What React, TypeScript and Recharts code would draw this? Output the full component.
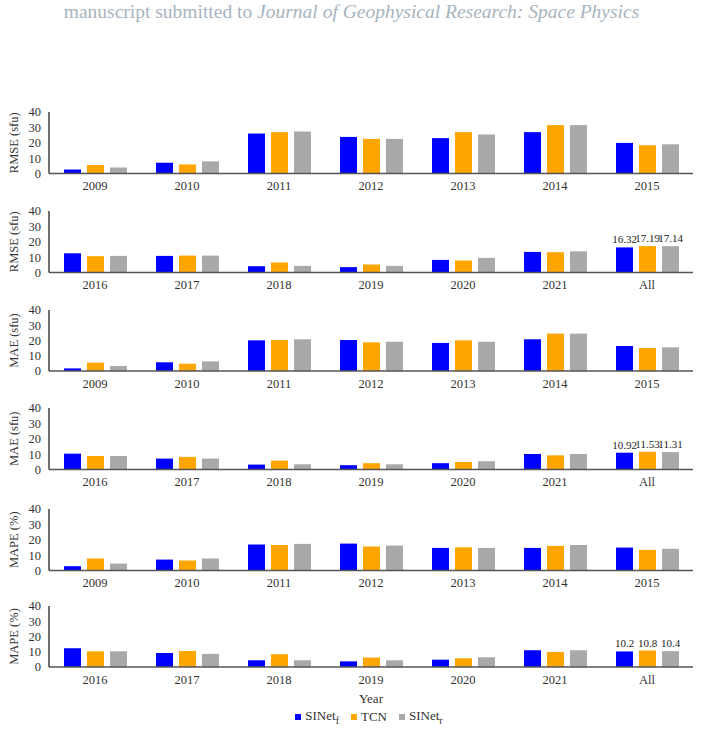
import React from 'react';
import { BarChart, Bar, XAxis, YAxis, LabelList, Legend } from 'recharts';

const yearsA = ['2009', '2010', '2011', '2012', '2013', '2014', '2015'];
const yearsB = ['2016', '2017', '2018', '2019', '2020', '2021', 'All'];

const rmseA_f = [2.6, 7.0, 26.0, 23.8, 23.0, 26.9, 19.9];
const rmseA_t = [5.5, 5.9, 26.9, 22.5, 26.9, 31.5, 18.4];
const rmseA_r = [3.9, 7.9, 27.3, 22.5, 25.4, 31.5, 19.0];

const rmseB_f = [12.5, 10.8, 4.1, 3.5, 8.2, 13.4, 16.32];
const rmseB_t = [10.6, 11.0, 6.5, 5.2, 7.8, 13.2, 17.19];
const rmseB_r = [10.8, 11.0, 4.3, 4.3, 9.5, 13.8, 17.14];

const maeA_f = [1.7, 5.7, 20.1, 20.3, 18.4, 20.8, 16.4];
const maeA_t = [5.5, 4.8, 20.3, 18.8, 20.1, 24.5, 15.1];
const maeA_r = [3.3, 6.3, 20.8, 19.2, 19.2, 24.5, 15.5];

const maeB_f = [10.3, 7.1, 3.2, 2.8, 4.1, 10.1, 10.92];
const maeB_t = [8.8, 8.2, 5.8, 4.1, 4.9, 9.2, 11.53];
const maeB_r = [8.8, 7.1, 3.4, 3.4, 5.4, 10.1, 11.31];

const mapeA_f = [2.8, 7.1, 16.9, 17.5, 14.7, 14.7, 14.9];
const mapeA_t = [7.8, 6.5, 16.6, 15.6, 15.1, 16.0, 13.4];
const mapeA_r = [4.5, 7.8, 17.3, 16.2, 14.7, 16.6, 14.1];

const mapeB_f = [12.3, 9.2, 4.4, 3.7, 4.8, 11.0, 10.2];
const mapeB_t = [10.3, 10.5, 8.4, 6.2, 5.7, 9.9, 10.8];
const mapeB_r = [10.3, 8.6, 4.4, 4.4, 6.4, 11.0, 10.4];

const yTicks = [0, 10, 20, 30, 40];

const BLUE = '#0000ff';
const ORANGE = '#ffa500';
const GREY = '#a9a9a9';
const FONT = '"Liberation Serif", "DejaVu Serif", "Noto Serif", serif';

type Row = { name: string; f: number; t: number; r: number; lf?: string; lt?: string; lr?: string };

function build(cats: string[], f: number[], t: number[], r: number[], labelLast: boolean): Row[] {
  return cats.map((c, i) => {
    const row: Row = { name: c, f: f[i], t: t[i], r: r[i] };
    if (labelLast && c === 'All') {
      row.lf = String(f[i]);
      row.lt = String(t[i]);
      row.lr = String(r[i]);
    }
    return row;
  });
}

const panels = [
  { top: 112, zero: 173.5, label: 'RMSE (sfu)', data: build(yearsA, rmseA_f, rmseA_t, rmseA_r, false) },
  { top: 210.5, zero: 272, label: 'RMSE (sfu)', data: build(yearsB, rmseB_f, rmseB_t, rmseB_r, true) },
  { top: 310, zero: 371, label: 'MAE (sfu)', data: build(yearsA, maeA_f, maeA_t, maeA_r, false) },
  { top: 407.5, zero: 469, label: 'MAE (sfu)', data: build(yearsB, maeB_f, maeB_t, maeB_r, true) },
  { top: 508.5, zero: 570, label: 'MAPE (%)', data: build(yearsA, mapeA_f, mapeA_t, mapeA_r, false) },
  { top: 606, zero: 667, label: 'MAPE (%)', data: build(yearsB, mapeB_f, mapeB_t, mapeB_r, true) },
];

const YLabel = (props: any) => {
  const vb = props.viewBox || {};
  const cy = vb.y + vb.height / 2;
  const cx = 14;
  return (
    <text
      x={cx}
      y={cy}
      transform={`rotate(-90 ${cx} ${cy})`}
      textAnchor="middle"
      dominantBaseline="central"
      style={{ fontFamily: FONT }}
      fontSize={12.5}
      fill="#333"
    >
      {props.text}
    </text>
  );
};

const legendItems = [
  { color: BLUE, main: 'SINet', sub: 'f' },
  { color: ORANGE, main: 'TCN', sub: '' },
  { color: GREY, main: 'SINet', sub: 'r' },
];

const LegendContent = () => (
  <div
    style={{
      display: 'flex',
      justifyContent: 'center',
      alignItems: 'center',
      paddingLeft: 55,
      paddingRight: 10,
      paddingTop: 5,
      fontFamily: FONT,
      fontSize: 13,
      color: '#333',
      gap: 12,
    }}
  >
    {legendItems.map((it, i) => (
      <span key={i} style={{ display: 'inline-flex', alignItems: 'center' }}>
        <span style={{ display: 'inline-block', width: 6, height: 6, background: it.color, marginRight: 4 }} />
        <span>
          {it.main}
          {it.sub ? <sub style={{ fontSize: 10 }}>{it.sub}</sub> : null}
        </span>
      </span>
    ))}
  </div>
);

const MARGIN_TOP = 12;
const tickStyle = { fontFamily: FONT, fontSize: 12.5, fill: '#333' };
const labelStyle = { fontFamily: FONT, fontSize: 11, fill: '#222' };

export default function App() {
  return (
    <div style={{ position: 'absolute', left: 0, top: 0, width: 703, height: 731, background: '#fff', overflow: 'hidden', fontFamily: FONT }}>
      <div
        style={{
          position: 'absolute',
          left: 0,
          top: 1,
          width: 703,
          textAlign: 'center',
          fontFamily: FONT,
          fontSize: 19.5,
          color: '#a7b4c0',
          whiteSpace: 'nowrap',
        }}
      >
        manuscript submitted to <i>Journal of Geophysical Research: Space Physics</i>
      </div>
      {panels.map((p, idx) => {
        const last = idx === panels.length - 1;
        const plotH = p.zero - p.top;
        const xH = last ? 36 : 26;
        const legendH = last ? 26 : 0;
        const height = MARGIN_TOP + plotH + xH + legendH;
        return (
          <div key={idx} style={{ position: 'absolute', left: 0, top: p.top - MARGIN_TOP }}>
            <BarChart
              width={703}
              height={height}
              data={p.data}
              margin={{ top: MARGIN_TOP, right: 10, left: 0, bottom: 0 }}
              barSize={17}
              barGap={6}
              style={{ fontFamily: FONT }}
            >
              <XAxis
                dataKey="name"
                height={xH}
                tickLine={false}
                axisLine={{ stroke: '#555', strokeWidth: 1.6 }}
                tick={tickStyle}
                interval={0}
                label={
                  last
                    ? { value: 'Year', position: 'insideBottom', offset: 0, fontFamily: FONT, fontSize: 13, fill: '#333' }
                    : undefined
                }
              />
              <YAxis
                width={49}
                domain={[0, 40]}
                ticks={yTicks}
                interval={0}
                tickLine={false}
                axisLine={{ stroke: '#333', strokeWidth: 1.4 }}
                tick={tickStyle}
                label={<YLabel text={p.label} />}
              />
              {last ? <Legend verticalAlign="bottom" height={legendH} content={<LegendContent />} /> : null}
              <Bar dataKey="f" fill={BLUE} isAnimationActive={false}>
                <LabelList dataKey="lf" position="top" offset={4} {...labelStyle} />
              </Bar>
              <Bar dataKey="t" fill={ORANGE} isAnimationActive={false}>
                <LabelList dataKey="lt" position="top" offset={4} {...labelStyle} />
              </Bar>
              <Bar dataKey="r" fill={GREY} isAnimationActive={false}>
                <LabelList dataKey="lr" position="top" offset={4} {...labelStyle} />
              </Bar>
            </BarChart>
          </div>
        );
      })}
    </div>
  );
}
